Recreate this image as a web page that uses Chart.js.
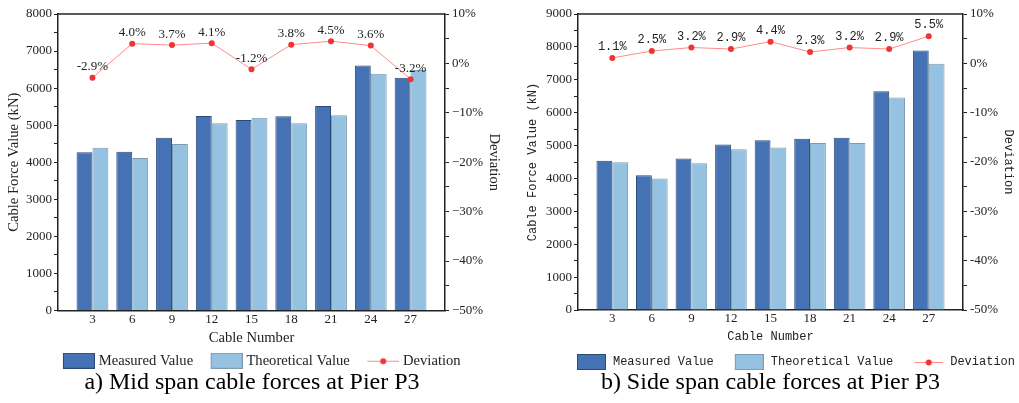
<!DOCTYPE html>
<html>
<head>
<meta charset="utf-8">
<script src="https://cdn.jsdelivr.net/npm/chart.js@4"></script>
<style>
  html, body { margin: 0; padding: 0; background: #fff; }
  #wrap { width: 1019px; height: 403px; display: flex; }
  .box { position: relative; height: 403px; }
  .plot { position: absolute; left: 0; top: 0; width: 100%; height: 378px; }
  .caption {
    position: absolute; left: 0; top: 368px; width: 100%;
    font: 24px/26px "Liberation Serif", serif; color: #000; text-align: center;
  }
</style>
</head>
<body>
<div id="wrap">
  <div class="box" style="width:510px">
    <div class="plot"><canvas id="midCanvas"></canvas></div>
    <div class="caption" style="margin-left:-3px">a) Mid span cable forces at Pier P3</div>
  </div>
  <div class="box" style="width:509px">
    <div class="plot"><canvas id="sideCanvas"></canvas></div>
    <div class="caption" style="margin-left:6px">b) Side span cable forces at Pier P3</div>
  </div>
</div>
<script>
// DATA ---------------------------------------
const cables = [3, 6, 9, 12, 15, 18, 21, 24, 27];

// a) mid span
const midMeasured    = [4270, 4280, 4660, 5250, 5140, 5240, 5520, 6610, 6280];
const midTheoretical = [4390, 4110, 4490, 5050, 5200, 5050, 5270, 6390, 6490];
const midDeviation   = [-2.9, 4.0, 3.7, 4.1, -1.2, 3.8, 4.5, 3.6, -3.2];

// b) side span
const sideMeasured    = [4540, 4100, 4610, 5030, 5160, 5210, 5240, 6650, 7890];
const sideTheoretical = [4490, 4000, 4460, 4890, 4940, 5080, 5080, 6460, 7490];
const sideDeviation   = [1.1, 2.5, 3.2, 2.9, 4.4, 2.3, 3.2, 2.9, 5.5];

const legendNames = ['Measured Value', 'Theoretical Value', 'Deviation'];

// COLOURS -------------------------------------
const darkBlue = '#4472b4';
const darkBlueEdge = '#2c4a78';
const lightBlue = '#94c2e0';
const lightBlueEdge = '#7f9bb0';
const lineRed = '#ff8a8a';
const dotRed = '#f03434';

// legend icons: small canvases, with empty room on the left
// (that room acts as the gap between legend items)
function makeIcon(lead, w, h, kind) {
  let c = document.createElement('canvas');
  c.width = lead + w; c.height = h;
  let g = c.getContext('2d');
  if (kind === 'line') {
    g.strokeStyle = lineRed;
    g.lineWidth = 1;
    g.beginPath();
    g.moveTo(lead, h / 2 + 0.5);
    g.lineTo(lead + w, h / 2 + 0.5);
    g.stroke();
    g.fillStyle = dotRed;
    g.beginPath();
    g.arc(lead + w / 2, h / 2 + 0.5, 3, 0, Math.PI * 2);
    g.fill();
  } else {
    g.fillStyle = kind === 'dark' ? darkBlue : lightBlue;
    g.fillRect(lead, 0, w, h);
    g.strokeStyle = kind === 'dark' ? darkBlueEdge : lightBlueEdge;
    g.lineWidth = 1;
    g.strokeRect(lead + 0.5, 0.5, w - 1, h - 1);
  }
  return c;
}

// plugin: top frame of the plot + deviation labels
const extras = {
  id: 'extras',
  afterDatasetsDraw(chart, args, opts) {
    let ctx = chart.ctx;
    let a = chart.chartArea;
    ctx.save();
    ctx.strokeStyle = '#222';
    ctx.lineWidth = 1.5;
    ctx.beginPath();
    ctx.moveTo(a.left, a.top);
    ctx.lineTo(a.right, a.top);
    ctx.stroke();
    let idx = chart.data.datasets.findIndex(d => d.type === 'line');
    let meta = chart.getDatasetMeta(idx);
    ctx.fillStyle = '#222';
    ctx.font = opts.font;
    ctx.textAlign = 'center';
    ctx.textBaseline = 'middle';
    meta.data.forEach((pt, i) => {
      let v = chart.data.datasets[idx].data[i].y;
      ctx.fillText(v.toFixed(1) + '%', pt.x, pt.y - 11);
    });
    ctx.restore();
  }
};

function makeChart(id, cfg) {
  const tickFont = {family: 'Liberation Serif', size: 13};
  const textFont = {family: cfg.family, size: cfg.size};
  const pts = arr => cables.map((c, i) => ({x: c, y: arr[i]}));
  const icons = ['dark', 'light', 'line'].map(k => makeIcon(cfg.iconLead, cfg.iconW, 16, k));

  return new Chart(document.getElementById(id), {
    type: 'bar',
    data: {
      datasets: [{
        type: 'line',
        label: legendNames[2],
        data: pts(cfg.deviation),
        yAxisID: 'y2',
        borderColor: lineRed,
        borderWidth: 1,
        pointRadius: 3,
        pointBackgroundColor: dotRed,
        pointBorderWidth: 0,
        tension: 0,
        order: 0
      }, {
        label: legendNames[0],
        data: pts(cfg.measured),
        backgroundColor: darkBlue,
        borderColor: darkBlueEdge,
        borderWidth: 1,
        categoryPercentage: 0.8,
        barPercentage: 1,
        order: 1
      }, {
        label: legendNames[1],
        data: pts(cfg.theoretical),
        backgroundColor: lightBlue,
        borderColor: lightBlueEdge,
        borderWidth: 1,
        categoryPercentage: 0.8,
        barPercentage: 1,
        order: 1
      }]
    },
    options: {
      responsive: true,
      maintainAspectRatio: false,
      animation: false,
      layout: {padding: {top: 14, left: 0, right: 0, bottom: 0}},
      plugins: {
        tooltip: {enabled: false},
        extras: {font: cfg.labelFont},
        legend: {
          position: 'bottom',
          align: cfg.legendAlign,
          labels: {
            color: '#222',
            font: textFont,
            usePointStyle: true,
            pointStyleWidth: cfg.iconSlot,
            boxHeight: 16,
            padding: 4,
            generateLabels(chart) {
              return [1, 2, 0].map((di, k) => ({
                text: chart.data.datasets[di].label,
                pointStyle: icons[k],
                datasetIndex: di,
                fontColor: '#222',
                lineWidth: 0,
                hidden: false
              }));
            }
          }
        },
        title: {display: false}
      },
      scales: {
        x: {
          type: 'linear',
          offset: false,
          min: 0.4,
          max: 29.6,
          afterBuildTicks(s) { s.ticks = cables.map(v => ({value: v})); },
          afterFit(s) { s.height = cfg.xHeight; },
          grid: {display: false, drawTicks: false},
          border: {color: '#222', width: 1.5},
          ticks: {color: '#222', font: tickFont, padding: 1},
          title: {display: true, text: 'Cable Number', color: '#222', font: textFont, padding: {top: 0, bottom: cfg.xTitlePad}}
        },
        y: {
          position: 'left',
          min: 0,
          max: cfg.yMax,
          afterFit(s) { s.width = cfg.leftW; },
          border: {color: '#222', width: 1.5},
          grid: {drawOnChartArea: false, tickLength: 4, color: '#222'},
          ticks: {
            stepSize: 500,
            autoSkip: false,
            color: '#222',
            font: tickFont,
            padding: 2,
            callback: v => v % 1000 === 0 ? String(v) : ''
          },
          title: {display: true, text: 'Cable Force Value (kN)', color: '#222', font: textFont, padding: {top: cfg.yTitlePad, bottom: 0}}
        },
        y2: {
          position: 'right',
          min: -50,
          max: 10,
          afterFit(s) { s.width = cfg.rightW; },
          border: {color: '#222', width: 1.5},
          grid: {drawOnChartArea: false, tickLength: 4, color: '#222'},
          ticks: {
            stepSize: 5,
            autoSkip: false,
            color: '#222',
            font: tickFont,
            padding: 3,
            callback: v => v % 10 === 0 ? (v < 0 ? cfg.minus : '') + Math.abs(v) + '%' : ''
          },
          title: {display: true, text: 'Deviation', color: '#222', font: textFont, padding: {top: cfg.y2TitlePad, bottom: 0}}
        }
      }
    },
    plugins: [extras]
  });
}

makeChart('midCanvas', {
  measured: midMeasured,
  theoretical: midTheoretical,
  deviation: midDeviation,
  family: 'Liberation Serif',
  size: 14.6,
  labelFont: '13px "Liberation Serif"',
  yMax: 8000,
  leftW: 58,
  rightW: 65,
  xHeight: 39,
  xTitlePad: 2,
  yTitlePad: 5,
  y2TitlePad: 7,
  iconW: 32,
  iconLead: 17,
  iconSlot: 42,
  legendAlign: 'center',
  minus: '\u2212'
});

makeChart('sideCanvas', {
  measured: sideMeasured,
  theoretical: sideTheoretical,
  deviation: sideDeviation,
  family: 'Liberation Mono',
  size: 12,
  labelFont: '12px "Liberation Mono"',
  yMax: 9000,
  leftW: 68,
  rightW: 56,
  xHeight: 42,
  xTitlePad: 8,
  yTitlePad: 16,
  y2TitlePad: 4,
  iconW: 29,
  iconLead: 16,
  iconSlot: 47,
  legendAlign: 'end',
  minus: '-'
});
</script>
</body>
</html>
